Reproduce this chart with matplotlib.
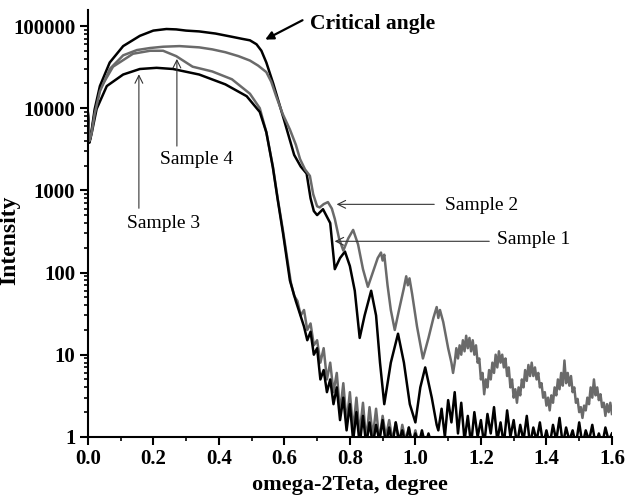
import matplotlib
matplotlib.use('Agg')
import matplotlib.pyplot as plt
from matplotlib.ticker import LogLocator, FixedLocator, FuncFormatter, NullFormatter

# ---- data ----
# Sample 1 (black, highest curve)
x1 = [0.0, 0.005, 0.011, 0.021, 0.037, 0.067, 0.108, 0.159, 0.20, 0.24, 0.27, 0.30, 0.34,
      0.39, 0.44, 0.47, 0.495, 0.515, 0.53, 0.545, 0.566, 0.60, 0.63, 0.65, 0.668, 0.68,
      0.69, 0.70, 0.718, 0.74, 0.754, 0.77, 0.785, 0.80, 0.815, 0.83, 0.845, 0.865, 0.88,
      0.892, 0.905, 0.925, 0.947, 0.965, 0.983, 1.0, 1.015, 1.03, 1.05, 1.065,
      1.07, 1.08, 1.09, 1.10, 1.11, 1.12, 1.13, 1.14, 1.15, 1.16, 1.17, 1.18, 1.19, 1.20,
      1.21, 1.22, 1.23, 1.24, 1.25, 1.26, 1.27, 1.28, 1.29, 1.30, 1.31, 1.32, 1.33, 1.34,
      1.35, 1.36, 1.37, 1.38, 1.39, 1.40, 1.41, 1.42, 1.43, 1.44, 1.45, 1.46, 1.47, 1.48,
      1.49, 1.50, 1.51, 1.52, 1.53, 1.54, 1.55, 1.56, 1.57, 1.58, 1.59, 1.60]
y1 = [9000, 3900, 5100, 9700, 18600, 36000, 57000, 76000, 88000, 92000, 91000, 88000, 86000,
      81000, 74000, 70000, 67000, 60000, 50000, 36000, 20000, 7000, 2700, 1950, 1600, 800,
      560, 500, 590, 400, 110, 150, 180, 120, 60, 16, 30, 60, 30,
      8, 2.5, 8, 18, 8, 2.5, 1.5, 4, 7, 3, 1.4,
      1.2, 2.2, 1.0, 2.8, 1.5, 3.5, 1.1, 2.6, 0.9, 1.8, 0.8, 2.0, 1.0, 1.6,
      0.8, 1.9, 1.1, 2.3, 0.9, 1.5, 0.8, 2.1, 1.0, 1.6, 0.8, 1.4, 0.9, 1.8,
      0.8, 1.3, 0.9, 1.5, 0.8, 1.2, 0.8, 1.4, 0.9, 1.7, 0.8, 1.3, 0.9, 1.2,
      0.8, 1.5, 0.8, 1.2, 0.9, 1.4, 0.8, 1.1, 0.8, 1.3, 0.9, 1.1]

# Sample 2 (grey, upper grey curve with strong fringes)
x2 = [0.0, 0.005, 0.011, 0.021, 0.037, 0.067, 0.108, 0.15, 0.19, 0.23, 0.28, 0.34, 0.38,
      0.42, 0.46, 0.495, 0.52, 0.545, 0.56, 0.575, 0.595, 0.617, 0.635, 0.648, 0.663,
      0.678, 0.688, 0.70, 0.708, 0.72, 0.733, 0.745, 0.754, 0.767, 0.78, 0.795, 0.81,
      0.825, 0.84, 0.855, 0.87, 0.885, 0.895, 0.90, 0.905, 0.915, 0.925, 0.937, 0.95,
      0.965, 0.972, 0.977, 0.982, 0.99, 1.005, 1.023, 1.04, 1.055, 1.065, 1.07, 1.075,
      1.085, 1.10, 1.11, 1.115,
      1.120, 1.125, 1.130, 1.135, 1.140, 1.145, 1.150, 1.155, 1.160, 1.165,
      1.170, 1.175, 1.180, 1.185, 1.190, 1.195, 1.200, 1.205, 1.210, 1.215,
      1.220, 1.225, 1.230, 1.235, 1.240, 1.245, 1.250, 1.255, 1.260, 1.265,
      1.270, 1.275, 1.280, 1.285, 1.290, 1.295, 1.300, 1.305, 1.310, 1.315,
      1.320, 1.325, 1.330, 1.335, 1.340, 1.345, 1.350, 1.355, 1.360, 1.365,
      1.370, 1.375, 1.380, 1.385, 1.390, 1.395, 1.400, 1.405, 1.410, 1.415,
      1.420, 1.425, 1.430, 1.435, 1.440, 1.445, 1.450, 1.455, 1.460, 1.465,
      1.470, 1.475, 1.480, 1.485, 1.490, 1.495, 1.500, 1.505, 1.510, 1.515,
      1.520, 1.525, 1.530, 1.535, 1.540, 1.545, 1.550, 1.555, 1.560, 1.565,
      1.570, 1.575, 1.580, 1.585, 1.590, 1.595, 1.600]
y2 = [9000, 4000, 4800, 8500, 16000, 30000, 44000, 51000, 54000, 56000, 57000, 55000, 52000,
      48000, 43000, 38000, 33000, 27500, 21000, 14000, 8500, 5500, 3600, 2400, 1800,
      1500, 900, 640, 620, 680, 720, 600, 450, 260, 185, 260, 330,
      220, 110, 67, 100, 150, 175, 140, 165, 70, 35, 20, 35,
      65, 90, 70, 85, 55, 22, 9, 16, 28, 38, 28, 35,
      25, 12, 8, 6,
      8, 12, 9, 13, 10, 15, 11, 17, 12, 16,
      11, 15, 10, 13, 8, 9, 5, 6, 3.3, 5,
      4, 6.5, 5, 8, 6, 10, 7, 11, 8, 10,
      7, 9, 5.5, 7, 4, 5, 3, 3.8, 2.6, 4,
      3.2, 5, 4, 6.5, 4.8, 7.5, 5.5, 8, 5.5, 7,
      5, 6, 4, 4.5, 3, 3.5, 2.4, 3, 2.1, 3.2,
      2.6, 4, 3.2, 5, 3.8, 6, 4.2, 8.5, 4.5, 6,
      4.2, 5.5, 3.5, 4, 2.6, 2.9, 2, 2.3, 1.7, 2.4,
      2.1, 3, 2.5, 4, 3, 5, 3.2, 4, 2.8, 3.3,
      2.3, 2.6, 1.8, 2.5, 2, 2.6, 1.9]

# Sample 3 (black, lowest curve)
x3 = [0.0, 0.005, 0.012, 0.027, 0.058, 0.108, 0.159, 0.21, 0.26, 0.34, 0.42, 0.485, 0.525,
      0.545, 0.565, 0.58, 0.596, 0.617, 0.635, 0.647, 0.66, 0.67, 0.68, 0.69, 0.70, 0.71,
      0.72, 0.73, 0.74, 0.75, 0.76, 0.77, 0.78, 0.79, 0.80, 0.81, 0.82, 0.83, 0.84, 0.85,
      0.86, 0.87, 0.88, 0.89, 0.90, 0.91, 0.92, 0.93, 0.94, 0.95, 0.96, 0.97, 0.98, 0.99,
      1.00, 1.01, 1.02, 1.03, 1.04, 1.05]
y3 = [9000, 3800, 5000, 9800, 18600, 25700, 30000, 31000, 30000, 25700, 19500, 14000, 9000,
      5100, 1900, 760, 300, 80, 45, 32, 22, 15, 19, 10, 12, 5,
      6.5, 3.5, 5, 2.5, 4, 1.6, 3, 1.2, 2.5, 0.9, 2, 0.8, 1.8, 0.8,
      1.5, 0.8, 1.4, 0.9, 1.6, 0.8, 1.3, 0.8, 1.5, 0.9, 1.2, 0.8, 1.3, 0.8,
      1.1, 0.8, 1.2, 0.8, 1.1, 0.8]

# Sample 4 (grey, lower grey curve)
x4 = [0.0, 0.005, 0.011, 0.021, 0.037, 0.077, 0.138, 0.19, 0.23, 0.27, 0.32, 0.38, 0.44,
      0.495, 0.525, 0.545, 0.565, 0.58, 0.596, 0.62, 0.63, 0.64, 0.65, 0.66, 0.67, 0.68,
      0.69, 0.70, 0.71, 0.72, 0.73, 0.74, 0.75, 0.76, 0.77, 0.78, 0.79, 0.80, 0.81, 0.82,
      0.83, 0.84, 0.85, 0.86, 0.87, 0.88, 0.89, 0.90, 0.91, 0.92, 0.93, 0.94, 0.95, 0.96,
      0.97, 0.98, 0.99, 1.00, 1.01, 1.02, 1.03, 1.04, 1.05]
y4 = [9000, 3900, 5000, 8800, 17000, 32000, 46000, 50000, 50000, 43000, 32000, 28000, 22500,
      15000, 10000, 5100, 1950, 780, 320, 75, 52, 45, 30, 35, 20, 24,
      13, 15, 8, 12, 5, 8, 3.5, 6, 2, 4.5, 1.5, 3.5, 1.2, 3,
      1.1, 2.6, 0.9, 2.3, 1.0, 2.2, 0.9, 1.8, 1.0, 1.6, 0.9, 1.5, 0.8, 1.4,
      0.9, 1.3, 0.8, 1.2, 0.8, 1.1, 0.8, 1.0, 0.7]

BLACK = '#000000'
GREY = '#6a6a6a'

plt.rcParams['font.family'] = ['Liberation Serif', 'DejaVu Serif']

fig = plt.figure(figsize=(6.27, 4.97), dpi=100)
ax = fig.add_axes([0.140, 0.121, 0.836, 0.859])

ax.plot(x4, y4, color=GREY, lw=1.8)
ax.plot(x3, y3, color=BLACK, lw=1.8)
ax.plot(x1, y1, color=BLACK, lw=1.8)
ax.plot(x2, y2, color=GREY, lw=1.8)

ax.set_yscale('log')
ax.set_xlim(0, 1.6)
ax.set_ylim(1, 157000)

for side in ['top', 'right']:
    ax.spines[side].set_visible(False)
for side in ['left', 'bottom']:
    ax.spines[side].set_linewidth(1.5)

ax.xaxis.set_major_locator(FixedLocator([0.0, 0.2, 0.4, 0.6, 0.8, 1.0, 1.2, 1.4, 1.6]))
ax.xaxis.set_minor_locator(FixedLocator([0.1, 0.3, 0.5, 0.7, 0.9, 1.1, 1.3, 1.5]))
ax.xaxis.set_major_formatter(FuncFormatter(lambda v, p: '%.1f' % v))
ax.yaxis.set_major_locator(LogLocator(base=10, numticks=10))
ax.yaxis.set_minor_locator(LogLocator(base=10, subs=range(2, 10), numticks=20))
ax.yaxis.set_minor_formatter(NullFormatter())
ax.yaxis.set_major_formatter(FuncFormatter(lambda v, p: '%d' % round(v)))

ax.tick_params(which='major', direction='out', length=6, width=1.5, labelsize=15, pad=3)
ax.tick_params(which='minor', direction='out', length=3, width=1.2)
for lab in ax.get_xticklabels() + ax.get_yticklabels():
    lab.set_fontweight('bold')

ax.set_xlabel('omega-2Teta, degree', fontsize=16, fontweight='bold', labelpad=4)
ax.set_ylabel('Intensity', fontsize=17, fontweight='bold')
ax.yaxis.set_label_coords(-0.128, 0.46)

thin = dict(arrowstyle='->', color='#333333', lw=0.8, mutation_scale=14)
ax.annotate('', xy=(0.272, 43000), xytext=(0.272, 3200), arrowprops=thin)
ax.text(0.333, 10 ** 3.38, 'Sample 4', fontsize=14, ha='center', va='center')
ax.annotate('', xy=(0.156, 28000), xytext=(0.156, 560), arrowprops=thin)
ax.text(0.232, 10 ** 2.6, 'Sample 3', fontsize=14, ha='center', va='center')
ax.annotate('', xy=(0.751, 676), xytext=(1.066, 676), arrowprops=thin)
ax.text(1.09, 10 ** 2.82, 'Sample 2', fontsize=14, ha='left', va='center')
ax.annotate('', xy=(0.745, 240), xytext=(1.234, 240), arrowprops=thin)
ax.text(1.249, 10 ** 2.40, 'Sample 1', fontsize=14, ha='left', va='center')

ax.annotate('', xy=(0.534, 66000), xytext=(0.663, 122000),
            arrowprops=dict(arrowstyle='-|>', color=BLACK, lw=1.6, mutation_scale=12))
ax.text(0.678, 10 ** 5.03, 'Critical angle', fontsize=15.5, fontweight='bold',
        ha='left', va='center')

fig.savefig('out.png', dpi=100)
